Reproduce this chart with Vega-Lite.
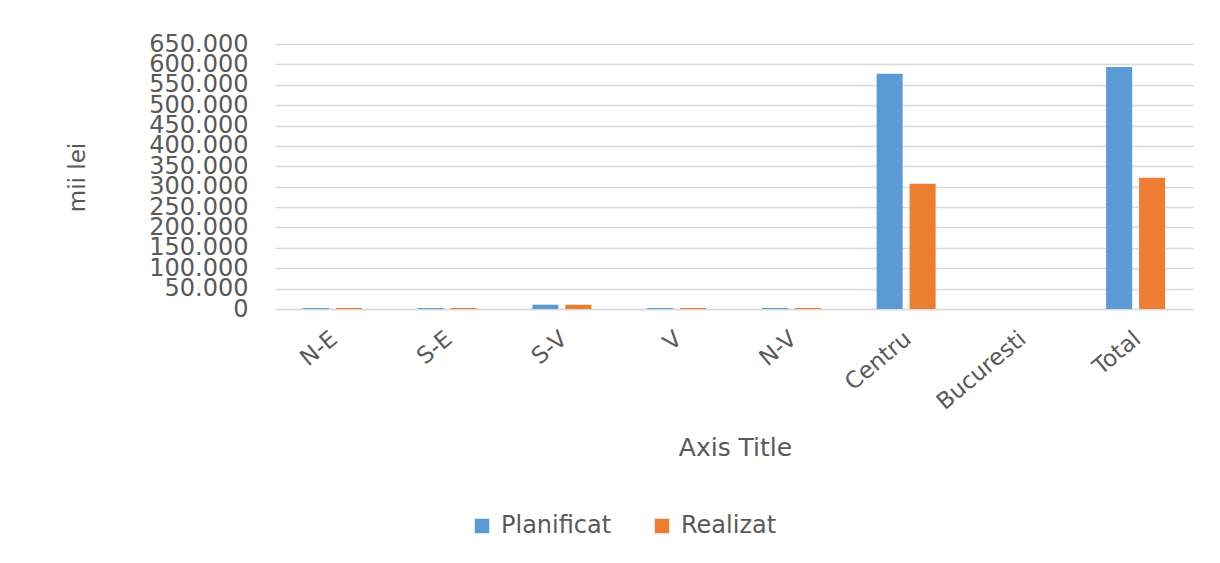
{
  "$schema": "https://vega.github.io/schema/vega-lite/v6.json",
  "width": 918,
  "height": 265,
  "autosize": {"type": "none"},
  "padding": {"left": 275, "top": 44, "right": 27, "bottom": 254},
  "background": "white",
  "config": {
    "locale": {"number": {"decimal": ",", "thousands": ".", "grouping": [3], "currency": ["", " lei"]}},
    "view": {"stroke": null},
    "font": "DejaVu Sans",
    "axis": {"labelColor": "#595959", "titleColor": "#595959", "titleFontWeight": "normal"},
    "legend": {"labelColor": "#595959"}
  },
  "data": {
    "values": [
      {"regiune": "N-E", "serie": "Planificat", "valoare": 2500},
      {"regiune": "N-E", "serie": "Realizat", "valoare": 2500},
      {"regiune": "S-E", "serie": "Planificat", "valoare": 2500},
      {"regiune": "S-E", "serie": "Realizat", "valoare": 2500},
      {"regiune": "S-V", "serie": "Planificat", "valoare": 10500},
      {"regiune": "S-V", "serie": "Realizat", "valoare": 10500},
      {"regiune": "V", "serie": "Planificat", "valoare": 2500},
      {"regiune": "V", "serie": "Realizat", "valoare": 2500},
      {"regiune": "N-V", "serie": "Planificat", "valoare": 2500},
      {"regiune": "N-V", "serie": "Realizat", "valoare": 2500},
      {"regiune": "Centru", "serie": "Planificat", "valoare": 577000},
      {"regiune": "Centru", "serie": "Realizat", "valoare": 307000},
      {"regiune": "Bucuresti", "serie": "Planificat", "valoare": 0},
      {"regiune": "Bucuresti", "serie": "Realizat", "valoare": 0},
      {"regiune": "Total", "serie": "Planificat", "valoare": 593500},
      {"regiune": "Total", "serie": "Realizat", "valoare": 322000}
    ]
  },
  "mark": {"type": "bar"},
  "encoding": {
    "x": {
      "field": "regiune",
      "type": "nominal",
      "sort": ["N-E", "S-E", "S-V", "V", "N-V", "Centru", "Bucuresti", "Total"],
      "scale": {"paddingInner": 0.486, "paddingOuter": 0.243},
      "axis": {
        "title": "Axis Title",
        "titleFontSize": 25,
        "titleX": 460,
        "titleY": 138,
        "titleBaseline": "middle",
        "titleAlign": "center",
        "labelAngle": -40,
        "labelFontSize": 23,
        "labelPadding": 18,
        "labelOffset": -5,
        "ticks": false,
        "domainColor": "#D9D9D9",
        "domainWidth": 1.5
      }
    },
    "xOffset": {
      "field": "serie",
      "type": "nominal",
      "scale": {"paddingInner": 0.21}
    },
    "y": {
      "field": "valoare",
      "type": "quantitative",
      "scale": {"domain": [0, 650000], "nice": false},
      "axis": {
        "title": "mii lei",
        "titleFontSize": 23,
        "titleAngle": -90,
        "titleX": -198,
        "titleY": 133,
        "titleBaseline": "middle",
        "titleAlign": "center",
        "values": [0, 50000, 100000, 150000, 200000, 250000, 300000, 350000, 400000, 450000, 500000, 550000, 600000, 650000],
        "format": ",d",
        "labelFontSize": 24,
        "labelOverlap": false,
        "labelPadding": 27,
        "labelBaseline": "middle",
        "ticks": false,
        "domain": false,
        "gridColor": "#D9D9D9",
        "gridWidth": 1.5
      }
    },
    "color": {
      "field": "serie",
      "type": "nominal",
      "scale": {"domain": ["Planificat", "Realizat"], "range": ["#5B9BD5", "#ED7D31"]},
      "legend": {
        "title": null,
        "orient": "none",
        "direction": "horizontal",
        "legendX": 195,
        "legendY": 470,
        "symbolType": "square",
        "symbolSize": 210,
        "symbolStrokeWidth": 0,
        "labelFontSize": 24,
        "labelOffset": 7,
        "columnPadding": 38
      }
    }
  }
}
